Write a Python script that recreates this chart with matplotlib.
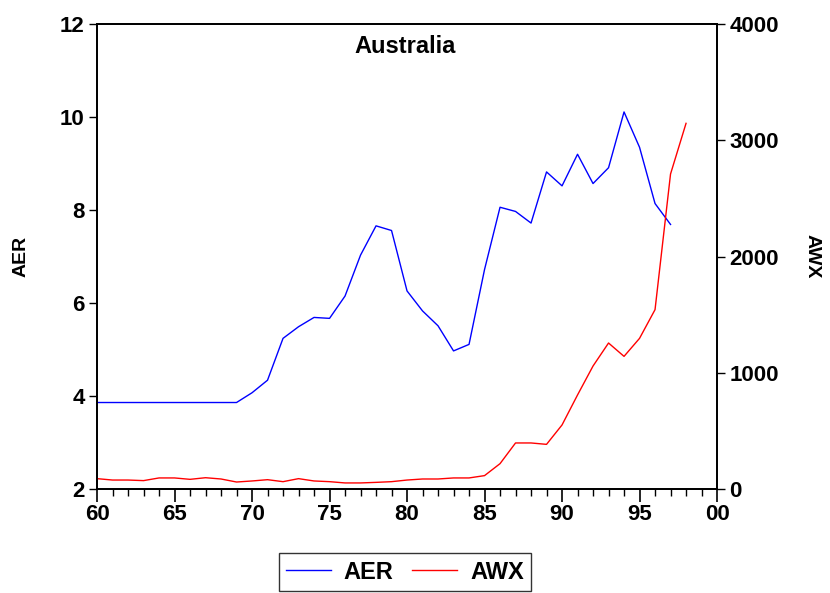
import numpy as np
import matplotlib.pyplot as plt
from matplotlib.ticker import MultipleLocator, FixedLocator

plt.rcParams["font.family"] = ["Liberation Sans", "DejaVu Sans"]
plt.rcParams["font.weight"] = "bold"

years = np.arange(1960, 1999)

aer = [3.86, 3.86, 3.86, 3.86, 3.86, 3.86, 3.86, 3.86, 3.86, 3.86,
       4.07, 4.34, 5.24, 5.49, 5.69, 5.67, 6.15, 7.03, 7.66, 7.56,
       6.26, 5.83, 5.51, 4.97, 5.11, 6.72, 8.06, 7.97, 7.72, 8.82,
       8.52, 9.20, 8.57, 8.91, 10.11, 9.35, 8.14, 7.69]
awx = [89, 77, 77, 72, 95, 95, 83, 97, 86, 60,
       69, 80, 63, 89, 69, 63, 52, 52, 57, 63,
       77, 86, 86, 95, 95, 115, 218, 396, 396, 384,
       551, 809, 1058, 1256, 1141, 1296, 1543, 2710, 3146]

x_ticks = [1960, 1965, 1970, 1975, 1980, 1985, 1990, 1995, 2000]
x_labels = ["60", "65", "70", "75", "80", "85", "90", "95", "00"]

fig = plt.figure(figsize=(8.3, 5.93), dpi=100)
ax = fig.add_axes([0.1169, 0.1754, 0.747, 0.784])
ax2 = ax.twinx()

l1, = ax.plot(years[:len(aer)], aer, color="blue", lw=1.0, label="AER")
l2, = ax2.plot(years, awx, color="red", lw=1.0, label="AWX")

ax.set_xlim(1960, 2000)
ax.set_ylim(2, 12)
ax2.set_ylim(0, 4000)
ax.set_yticks([2, 4, 6, 8, 10, 12])
ax2.set_yticks([0, 1000, 2000, 3000, 4000])
ax.xaxis.set_major_locator(FixedLocator(x_ticks))
ax.set_xticklabels(x_labels)
ax.xaxis.set_minor_locator(MultipleLocator(1))

for a in (ax, ax2):
    for s in a.spines.values():
        s.set_linewidth(1.3)
ax.tick_params(axis="x", which="major", direction="out", length=9, width=1.2,
               labelsize=16, pad=2)
ax.tick_params(axis="x", which="minor", direction="out", length=5, width=1.0)
ax.tick_params(axis="y", direction="out", length=6, width=1.0, labelsize=16, pad=3)
ax2.tick_params(axis="y", direction="out", length=6, width=1.0, labelsize=16, pad=3)

ax.set_ylabel("AER", fontsize=14, fontweight="bold", labelpad=22)
ax2.set_ylabel("AWX", fontsize=14, fontweight="bold", rotation=270, labelpad=30)

ax.text(0.497, 0.977, "Australia", transform=ax.transAxes, ha="center", va="top",
        fontsize=17, fontweight="bold")

leg = fig.legend([l1, l2], ["AER", "AWX"], loc="lower center", ncol=2,
                 bbox_to_anchor=(0.488, 0.0), fontsize=17, frameon=True,
                 fancybox=False, edgecolor="black", handlelength=1.9,
                 handletextpad=0.55, columnspacing=0.8, borderpad=0.3,
                 borderaxespad=0.1)
leg.get_frame().set_linewidth(1.0)

fig.savefig("out.png", dpi=100)
